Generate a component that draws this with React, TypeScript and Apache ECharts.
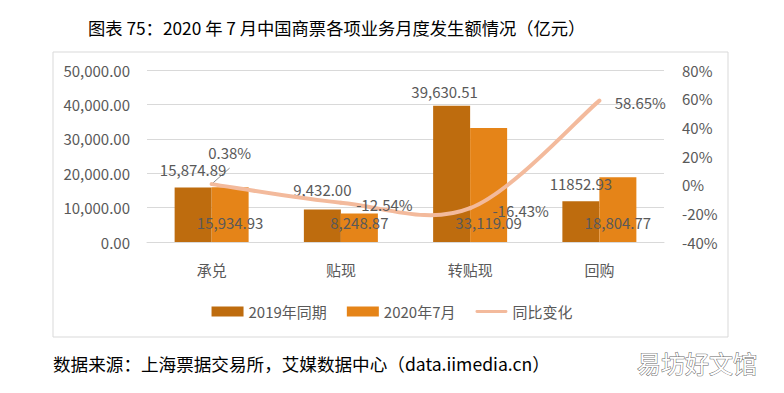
import React, { useEffect, useRef } from "react";
import * as echarts from "echarts";

const categories = ["承兑", "贴现", "转贴现", "回购"];
const values2019 = [15874.89, 9432.0, 39630.51, 11852.93];
const labels2019 = ["15,874.89", "9,432.00", "39,630.51", "11852.93"];
const values2020 = [15934.93, 8248.87, 33119.09, 18804.77];
const yoyChange = [0.38, -12.54, -16.43, 58.65];
const leftTicks = { min: 0, max: 50000, interval: 10000 };
const rightTicks = { min: -40, max: 80, interval: 20 };

const FONT = "'Noto Sans CJK SC', 'Noto Sans', sans-serif";
const GRAY = "#595959";
const LINE_COLOR = "#F3BA9C";

export default function App() {
  const ref = useRef<HTMLDivElement>(null);
  useEffect(() => {
    if (!ref.current) return;
    const chart = echarts.init(ref.current, undefined, { renderer: "svg" });
    const fmt = (v: number) =>
      v.toLocaleString("en-US", { minimumFractionDigits: 2, maximumFractionDigits: 2 });

    // Excel-like smoothed curve (Catmull-Rom style) through points placed by the axes
    const renderCurve = (params: any, api: any) => {
      const i = params.dataIndex;
      if (i >= yoyChange.length - 1) return null;
      const pts = yoyChange.map((v, k) => api.coord([k, v]));
      const p0 = pts[Math.max(i - 1, 0)];
      const p1 = pts[i];
      const p2 = pts[i + 1];
      const p3 = pts[Math.min(i + 2, pts.length - 1)];
      const t = 1 / 6;
      return {
        type: "bezierCurve",
        shape: {
          x1: p1[0],
          y1: p1[1],
          x2: p2[0],
          y2: p2[1],
          cpx1: p1[0] + (p2[0] - p0[0]) * t,
          cpy1: p1[1] + (p2[1] - p0[1]) * t,
          cpx2: p2[0] - (p3[0] - p1[0]) * t,
          cpy2: p2[1] - (p3[1] - p1[1]) * t,
        },
        style: { stroke: LINE_COLOR, lineWidth: 4, fill: "none", lineCap: "round" },
        silent: true,
      };
    };

    chart.setOption({
      animation: false,
      textStyle: { fontFamily: FONT },
      title: {
        text: "图表 75：2020 年 7 月中国商票各项业务月度发生额情况（亿元）",
        left: 83,
        top: 14,
        textStyle: { fontSize: 17.3, fontWeight: "normal", color: "#000", fontFamily: FONT },
      },
      legend: {
        top: 299,
        left: "center",
        itemWidth: 32,
        itemHeight: 10,
        itemGap: 20,
        textStyle: { fontSize: 15, color: GRAY, fontFamily: FONT },
        data: [
          { name: "2019年同期", icon: "rect" },
          { name: "2020年7月", icon: "rect" },
          {
            name: "同比变化",
            icon: "path://M0,0 M1.5,3.5 L32.5,3.5 A1.5,1.5 0 0 1 32.5,6.5 L1.5,6.5 A1.5,1.5 0 0 1 1.5,3.5 Z M34,10",
          },
        ],
      },
      grid: { left: 147, right: 120, top: 70, bottom: 151 },
      xAxis: {
        type: "category",
        data: categories,
        axisLine: { lineStyle: { color: "#d9d9d9" } },
        axisTick: { show: false },
        axisLabel: { fontSize: 15, color: GRAY, margin: 20, fontFamily: FONT },
      },
      yAxis: [
        {
          type: "value",
          ...leftTicks,
          axisLine: { show: false },
          axisTick: { show: false },
          splitLine: { lineStyle: { color: "#d9d9d9", width: 1 } },
          axisLabel: { fontSize: 15, color: GRAY, margin: 17, formatter: (v: number) => fmt(v), fontFamily: FONT },
        },
        {
          type: "value",
          ...rightTicks,
          axisLine: { show: false },
          axisTick: { show: false },
          splitLine: { show: false },
          axisLabel: { fontSize: 15, color: GRAY, margin: 18, formatter: "{value}%", fontFamily: FONT },
        },
      ],
      series: [
        {
          name: "2019年同期",
          type: "bar",
          barWidth: 37,
          barGap: "0%",
          itemStyle: { color: "#BE6C0E" },
          data: values2019.map((v, i) => ({
            value: v,
            label: {
              show: true,
              position: "top",
              distance: i === 1 ? 13 : i === 2 ? 7 : 10,
              offset: i === 2 ? [-7, 0] : [0, 0],
              formatter: () => labels2019[i],
            },
          })),
          label: { fontSize: 15, color: GRAY, fontFamily: FONT },
        },
        {
          name: "2020年7月",
          type: "bar",
          barWidth: 37,
          itemStyle: { color: "#E58418" },
          data: values2020,
          label: {
            show: true,
            position: "insideBottom",
            distance: 12,
            fontSize: 15,
            color: GRAY,
            fontFamily: FONT,
            formatter: (p: any) => fmt(p.value),
          },
        },
        {
          name: "同比变化曲线",
          type: "custom",
          yAxisIndex: 1,
          renderItem: renderCurve,
          encode: { x: 0, y: 1 },
          data: yoyChange.map((v, i) => [i, v]),
          z: 3,
          silent: true,
        },
        {
          name: "同比变化",
          type: "line",
          yAxisIndex: 1,
          symbol: "circle",
          symbolSize: 0.5,
          showSymbol: true,
          lineStyle: { width: 4, color: LINE_COLOR, opacity: 0 },
          itemStyle: { color: LINE_COLOR },
          z: 4,
          data: yoyChange.map((v, i) => ({
            value: v,
            label: {
              show: true,
              position: i === 0 ? "top" : "right",
              distance: i === 0 ? 5 : i === 2 ? 22 : 15,
              offset: i === 0 ? [18, -19] : [0, 2],
            },
          })),
          label: {
            fontSize: 15,
            color: GRAY,
            fontFamily: FONT,
            formatter: (p: any) => p.value.toFixed(2) + "%",
          },
        },
      ],
      graphic: [
        {
          id: "frame",
          type: "rect",
          shape: { x: 53, y: 52, width: 675, height: 285 },
          style: { fill: "none", stroke: "#d9d9d9", lineWidth: 1 },
          silent: true,
        },
        {
          id: "source",
          type: "text",
          x: 53,
          y: 363,
          style: {
            text: "数据来源：上海票据交易所，艾媒数据中心（data.iimedia.cn）",
            fontSize: 17.6,
            fill: "#000",
            fontFamily: FONT,
            verticalAlign: "middle",
          },
        },
        {
          id: "mark",
          type: "text",
          x: 637,
          y: 362,
          style: {
            text: "易坊好文馆",
            fontSize: 24,
            fill: "#fff",
            stroke: "#666",
            lineWidth: 1,
            fontFamily: FONT,
            verticalAlign: "middle",
          },
        },
      ],
    });
    // leader line for the first line label, located through the chart's own scales
    const p0 = chart.convertToPixel({ seriesIndex: 3 }, [0, yoyChange[0]]) as number[];
    if (p0) {
      chart.setOption({
        graphic: [
          {
            id: "leader",
            type: "line",
            shape: { x1: p0[0], y1: p0[1], x2: p0[0] + 18, y2: p0[1] - 16 },
            style: { stroke: "#8c8c8c", lineWidth: 1 },
            silent: true,
          },
        ],
      });
    }
    return () => chart.dispose();
  }, []);
  return (
    <div
      ref={ref}
      style={{ position: "fixed", left: 0, top: 0, width: 784, height: 393, background: "#fff" }}
    />
  );
}
